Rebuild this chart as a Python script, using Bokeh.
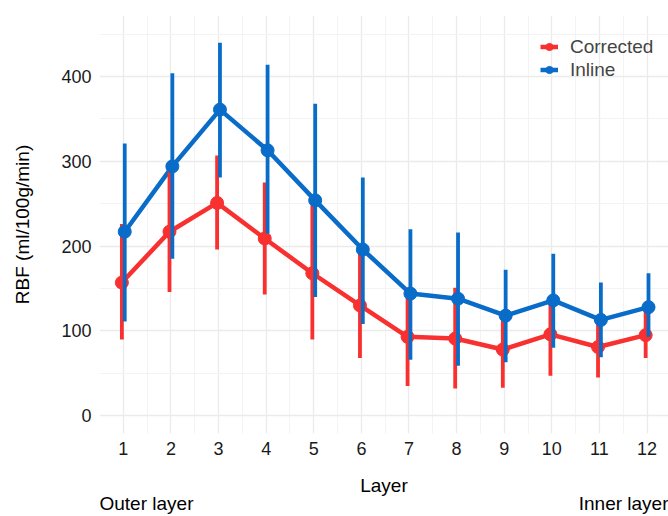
from bokeh.plotting import figure
from bokeh.models import Range1d, FixedTicker, Legend, LegendItem, LinearAxis
from bokeh.embed import file_html
from bokeh.resources import INLINE

layers = [1, 2, 3, 4, 5, 6, 7, 8, 9, 10, 11, 12]
corrected_mean = [157, 217, 251, 209, 168, 130, 93, 91, 78, 96, 81, 95]
corrected_lo = [90, 146, 196, 143, 90, 68, 35, 32, 33, 47, 45, 68]
corrected_hi = [226, 288, 307, 275, 248, 193, 151, 151, 121, 136, 112, 124]
inline_mean = [217, 294, 361, 313, 254, 196, 144, 138, 118, 136, 113, 128]
inline_lo = [111, 185, 281, 215, 140, 108, 66, 59, 63, 80, 69, 93]
inline_hi = [321, 404, 440, 414, 368, 281, 220, 216, 172, 191, 157, 168]
y_ticks = [0, 100, 200, 300, 400]
y_minor = [50, 150, 250, 350, 450]
x_minor = [0.5 + i for i in range(13)]
end_labels = {1.487: "Outer layer", 11.52: "Inner layer"}

RED = "#F8302F"
BLUE = "#0A6CC9"
FONT = "Liberation Sans"
dodge = 0.03

p = figure(width=668, height=516, output_backend="svg", toolbar_location=None,
           x_range=Range1d(0.5, 12.45), y_range=Range1d(-21, 472),
           min_border_left=99, min_border_right=0, min_border_top=15, min_border_bottom=83)
p.outline_line_color = None
p.background_fill_color = "white"

for ax in (p.xaxis[0], p.yaxis[0]):
    ax.axis_line_color = None
    ax.major_tick_line_color = None
    ax.minor_tick_line_color = None
    ax.major_tick_out = 0
    ax.minor_tick_out = 0
    ax.major_label_text_font = FONT
    ax.major_label_text_font_size = "18px"
    ax.major_label_text_color = "#1A1A1A"
    ax.axis_label_text_font = FONT
    ax.axis_label_text_font_size = "19px"
    ax.axis_label_text_font_style = "normal"
    ax.axis_label_text_color = "black"

p.xaxis.ticker = FixedTicker(ticks=layers, minor_ticks=x_minor)
p.yaxis.ticker = FixedTicker(ticks=y_ticks, minor_ticks=y_minor)
p.xaxis.axis_label = "Layer"
p.yaxis.axis_label = "RBF (ml/100g/min)"
p.xaxis.major_label_standoff = 8
p.yaxis.major_label_standoff = 8
p.xaxis.axis_label_standoff = 17
p.yaxis.axis_label_standoff = 25

end_axis = LinearAxis(ticker=FixedTicker(ticks=list(end_labels.keys())),
                      major_label_overrides=end_labels,
                      axis_line_color=None, major_tick_line_color=None,
                      minor_tick_line_color=None, major_tick_out=0, minor_tick_out=0,
                      major_label_standoff=-6,
                      major_label_text_font=FONT, major_label_text_font_size="19px",
                      major_label_text_color="black")
p.add_layout(end_axis, "below")

for g in (p.xgrid[0], p.ygrid[0]):
    g.grid_line_color = "#EBEBEB"
    g.grid_line_width = 1.3
    g.minor_grid_line_color = "#F3F3F3"
    g.minor_grid_line_width = 1.1

xr = [x - dodge for x in layers]
xb = [x + dodge for x in layers]

lr = p.line(xr, corrected_mean, line_color=RED, line_width=4.5)
lb = p.line(xb, inline_mean, line_color=BLUE, line_width=4.5)
p.segment(xr, corrected_lo, xr, corrected_hi, line_color=RED, line_width=3.8)
pr = p.scatter(xr, corrected_mean, size=13, fill_color=RED, line_color=RED)
p.segment(xb, inline_lo, xb, inline_hi, line_color=BLUE, line_width=3.8)
pb = p.scatter(xb, inline_mean, size=13, fill_color=BLUE, line_color=BLUE)

legend = Legend(items=[LegendItem(label="Corrected", renderers=[lr, pr]),
                       LegendItem(label="Inline", renderers=[lb, pb])],
                location=(441, 352), padding=0, margin=0, spacing=0,
                glyph_width=18, glyph_height=23, label_height=23, label_standoff=12,
                label_text_font=FONT, label_text_font_size="19px",
                border_line_color=None, background_fill_alpha=0)
p.add_layout(legend, "center")

open("out.html", "w").write(file_html(p, INLINE))
